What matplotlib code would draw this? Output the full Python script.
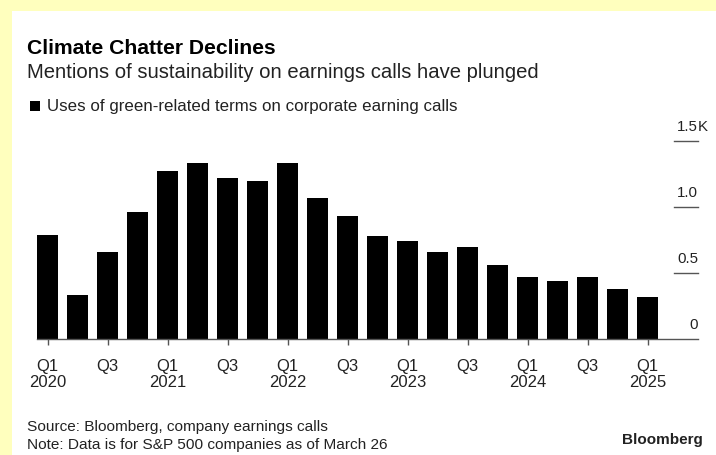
import matplotlib.pyplot as plt
from matplotlib.patches import Rectangle

plt.rcParams['font.family'] = ['Liberation Sans', 'DejaVu Sans']

# quarterly mentions, thousands (Q1 2020 .. Q1 2025)
quarters = ['Q1\n2020', 'Q2', 'Q3', 'Q4',
            'Q1\n2021', 'Q2', 'Q3', 'Q4',
            'Q1\n2022', 'Q2', 'Q3', 'Q4',
            'Q1\n2023', 'Q2', 'Q3', 'Q4',
            'Q1\n2024', 'Q2', 'Q3', 'Q4',
            'Q1\n2025']
mentions = [0.79, 0.33, 0.66, 0.96, 1.27, 1.33, 1.22, 1.20, 1.33, 1.07, 0.93,
            0.78, 0.74, 0.66, 0.70, 0.56, 0.47, 0.44, 0.47, 0.38, 0.32]
y_ticks = [0.5, 1.0, 1.5]
y_labels = ['0.5', '1.0', '1.5']

bg_yellow = '#ffffbe'
text_col = '#222222'
axis_col = '#555555'

fig = plt.figure(figsize=(7.16, 4.56), dpi=100)
fig.patch.set_facecolor(bg_yellow)
fig.patches.append(Rectangle((12 / 716, 0), 1 - 12 / 716, 444 / 456,
                             transform=fig.transFigure, facecolor='white',
                             edgecolor='none', zorder=-10))

ax = fig.add_axes([37 / 716, 116 / 456, 661 / 716, 198 / 456])
ax.set_facecolor('none')
ax.set_zorder(5)

x = list(range(len(mentions)))
ax.bar(x, mentions, width=0.69, color='black', zorder=2)

ax.set_xlim(-0.35, 21.68)
ax.set_ylim(0, 1.5)

for s in ['top', 'right', 'left']:
    ax.spines[s].set_visible(False)
ax.spines['bottom'].set_color(axis_col)
ax.spines['bottom'].set_linewidth(1.0)

tick_pos = x[::2]
tick_lab = [quarters[i] if quarters[i].startswith('Q1') else 'Q3' for i in tick_pos]
ax.set_xticks(tick_pos)
ax.set_xticklabels(tick_lab, fontsize=12, color=text_col, linespacing=1.1)
ax.tick_params(axis='x', length=4.5, width=1, color=axis_col, pad=9)
ax.set_yticks([])

# short right-hand gridline stubs with labels above
for v, lab in zip(y_ticks, y_labels):
    ax.axhline(v, xmin=0.964, xmax=1.0, color=axis_col, lw=1.0, clip_on=False)
    ax.annotate(lab, xy=(1.0, v), xycoords=('axes fraction', 'data'),
                xytext=(0, 6), textcoords='offset points',
                ha='right', va='bottom', fontsize=10.8, color=text_col)
ax.annotate('K', xy=(1.0, 1.5), xycoords=('axes fraction', 'data'),
            xytext=(0, 6), textcoords='offset points',
            ha='left', va='bottom', fontsize=10.8, color=text_col)
ax.annotate('0', xy=(1.0, 0), xycoords=('axes fraction', 'data'),
            xytext=(0, 6), textcoords='offset points',
            ha='right', va='bottom', fontsize=10.8, color=text_col)

fig.text(27 / 716, 1 - 48 / 456, 'Climate Chatter Declines', fontsize=15.2,
         fontweight='bold', color='black', va='center', ha='left')
fig.text(27 / 716, 1 - 72 / 456,
         'Mentions of sustainability on earnings calls have plunged',
         fontsize=14.6, color=text_col, va='center', ha='left')
fig.patches.append(Rectangle((30 / 716, 1 - 112 / 456), 10 / 716, 10 / 456,
                             transform=fig.transFigure, facecolor='black',
                             edgecolor='none', zorder=3))
fig.text(47 / 716, 1 - 107 / 456,
         'Uses of green-related terms on corporate earning calls',
         fontsize=12.2, color=text_col, va='center', ha='left')

fig.text(27 / 716, 1 - 427 / 456, 'Source: Bloomberg, company earnings calls',
         fontsize=11.1, color=text_col, va='center', ha='left')
fig.text(27 / 716, 1 - 445 / 456,
         'Note: Data is for S&P 500 companies as of March 26',
         fontsize=11.1, color=text_col, va='center', ha='left')
fig.text(703 / 716, 1 - 440 / 456, 'Bloomberg', fontsize=11,
         fontweight='bold', color=text_col, va='center', ha='right')

fig.savefig('out.png', dpi=100, facecolor=fig.get_facecolor())
